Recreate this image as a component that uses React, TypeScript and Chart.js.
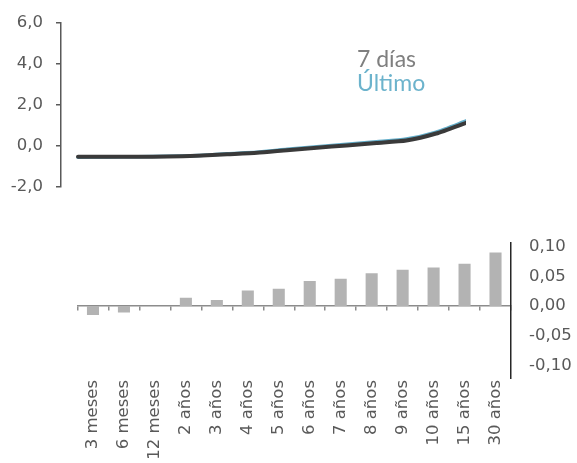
import React, { useEffect, useRef } from "react";
import { Chart, registerables } from "chart.js";

Chart.register(...registerables);

// Plazos de la curva
const plazos = [
  "3 meses", "6 meses", "12 meses", "2 años", "3 años", "4 años", "5 años",
  "6 años", "7 años", "8 años", "9 años", "10 años", "15 años", "30 años",
];

// Nivel de la curva (%), hace 7 días y último dato
const curva7Dias = [-0.52, -0.52, -0.52, -0.51, -0.47, -0.40, -0.33, -0.20, -0.08, 0.03, 0.15, 0.27, 0.61, 1.13];
const curvaUltimo = [-0.54, -0.53, -0.52, -0.50, -0.46, -0.37, -0.30, -0.16, -0.03, 0.09, 0.21, 0.34, 0.68, 1.22];

// Variación semanal (pp)
const variacion = [-0.015, -0.011, 0, 0.014, 0.010, 0.026, 0.029, 0.042, 0.046, 0.055, 0.061, 0.065, 0.071, 0.090];

// Marcas de los ejes
const nivelTicks = [-2, 0, 2, 4, 6];
const variacionTicks = [-0.1, -0.05, 0, 0.05, 0.1];

const serieNombres = ["7 días", "Último"];
const colorLinea7 = "#3a3a3a";
const colorLineaUltimo = "#62adc9";
const colorTexto7 = "#7f7f7f";
const colorTextoUltimo = "#6cb3cc";
const colorBarras = "#b3b3b3";
const colorEje = "#595959";
const fuenteEjes = "'DejaVu Sans'";

const W = 577;
const TOP_H = 210;
const BOT_H = 253;

const leyendaPlugin = {
  id: "leyendaTexto",
  afterDraw(chart: any) {
    const ctx = chart.ctx as CanvasRenderingContext2D;
    const colores = [colorTexto7, colorTextoUltimo];
    ctx.save();
    ctx.font = "23px Lato";
    ctx.textAlign = "left";
    ctx.textBaseline = "alphabetic";
    chart.data.datasets.forEach((ds: any, i: number) => {
      ctx.fillStyle = colores[i];
      ctx.fillText(ds.label, 357, 67 + i * 24);
    });
    ctx.restore();
  },
};

export default function App() {
  const topRef = useRef<HTMLCanvasElement>(null);
  const botRef = useRef<HTMLCanvasElement>(null);

  useEffect(() => {
    const top = new Chart(topRef.current!, {
      type: "line",
      data: {
        datasets: [
          {
            label: serieNombres[0],
            data: curva7Dias.map((v, i) => ({ x: i, y: v })),
            borderColor: colorLinea7,
            borderWidth: 4,
            borderCapStyle: "round",
            borderJoinStyle: "round",
            pointRadius: 0,
            tension: 0.2,
          },
          {
            label: serieNombres[1],
            data: curvaUltimo.map((v, i) => ({ x: i, y: v })),
            borderColor: colorLineaUltimo,
            borderWidth: 3.5,
            borderCapStyle: "round",
            borderJoinStyle: "round",
            pointRadius: 0,
            tension: 0.2,
          },
        ],
      },
      options: {
        responsive: false,
        animation: false,
        devicePixelRatio: 1,
        layout: { padding: { left: 0, top: 16.7, bottom: 19.7, right: W - 466 } },
        plugins: { legend: { display: false }, tooltip: { enabled: false } },
        scales: {
          x: { type: "linear", min: -0.57, max: plazos.length - 1, display: false },
          y: {
            min: nivelTicks[0],
            max: nivelTicks[nivelTicks.length - 1],
            afterBuildTicks: (s: any) => {
              s.ticks = nivelTicks.map((v) => ({ value: v }));
            },
            afterFit: (s: any) => {
              s.width = 61;
            },
            border: { display: true, color: colorEje, width: 1.5 },
            grid: { drawOnChartArea: false, drawTicks: true, tickLength: 5, color: colorEje, lineWidth: 1.5 },
            ticks: {
              autoSkip: false,
              padding: 13,
              color: colorEje,
              font: { family: fuenteEjes, size: 16.5 },
              callback: (v: any) => Number(v).toFixed(1).replace(".", ","),
            },
          },
        },
      },
      plugins: [leyendaPlugin],
    } as any);

    const bot = new Chart(botRef.current!, {
      type: "bar",
      data: {
        labels: plazos,
        datasets: [
          {
            label: "Variación",
            data: variacion,
            backgroundColor: colorBarras,
            barPercentage: 0.39,
            categoryPercentage: 1,
            xAxisID: "x",
            yAxisID: "y",
          },
        ],
      },
      options: {
        responsive: false,
        animation: false,
        devicePixelRatio: 1,
        layout: { padding: { left: 77.5, top: 33, bottom: 0, right: 0 } },
        plugins: { legend: { display: false }, tooltip: { enabled: false } },
        scales: {
          x: {
            type: "category",
            position: "bottom",
            offset: true,
            afterFit: (s: any) => {
              s.height = 85;
            },
            grid: { display: false, drawTicks: false },
            border: { display: false },
            ticks: {
              autoSkip: false,
              minRotation: 90,
              maxRotation: 90,
              padding: 2,
              color: colorEje,
              font: { family: fuenteEjes, size: 16.5 },
            },
          },
          cero: {
            type: "category",
            axis: "x",
            labels: plazos,
            position: { y: 0 },
            offset: true,
            grid: { offset: true, drawOnChartArea: false, drawTicks: true, tickLength: 4, color: "#8c8c8c", lineWidth: 1.5 },
            border: { display: true, color: "#8c8c8c", width: 1.5 },
            ticks: { display: false },
          },
          y: {
            position: "right",
            min: -0.121,
            max: 0.106,
            afterBuildTicks: (s: any) => {
              s.ticks = variacionTicks.map((v) => ({ value: v }));
            },
            afterFit: (s: any) => {
              s.width = W - 511;
            },
            border: { display: true, color: "#262626", width: 1.5 },
            grid: { display: false, drawTicks: false },
            ticks: {
              autoSkip: false,
              padding: 18,
              color: colorEje,
              font: { family: fuenteEjes, size: 16.5 },
              callback: (v: any) => Number(v).toFixed(2).replace(".", ","),
            },
          },
        },
      },
    } as any);

    return () => {
      top.destroy();
      bot.destroy();
    };
  }, []);

  return (
    <div style={{ position: "fixed", left: 0, top: 0, width: W, height: TOP_H + BOT_H, background: "#fff" }}>
      <canvas ref={topRef} width={W} height={TOP_H} style={{ position: "absolute", left: 0, top: 0, width: W, height: TOP_H }} />
      <canvas ref={botRef} width={W} height={BOT_H} style={{ position: "absolute", left: 0, top: TOP_H, width: W, height: BOT_H }} />
    </div>
  );
}
